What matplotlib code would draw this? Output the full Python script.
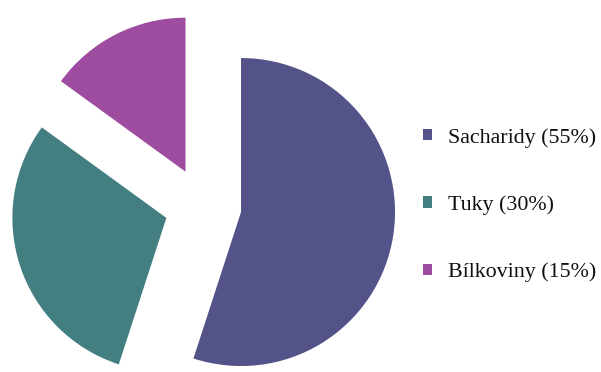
import matplotlib.pyplot as plt

labels = ["Sacharidy (55%)", "Tuky (30%)", "Bílkoviny (15%)"]
values = [55, 30, 15]
colors = ["#535389", "#437F80", "#9D4C9F"]

fig = plt.figure(figsize=(6.01, 3.72), dpi=100)
# pie radius 154 px, centre at (203, 206) px from top-left
ax = fig.add_axes([0, 0, 406 / 601, 1])

wedges, _ = ax.pie(values, colors=colors, startangle=90, counterclock=False,
                   explode=[0.25, 0.25, 0.25], radius=1, frame=True,
                   wedgeprops=dict(linewidth=0))
for w in wedges:
    w.set_clip_on(False)
ax.set_xlim(-203 / 154, 203 / 154)
ax.set_ylim(-166 / 154, 206 / 154)
ax.set_aspect("auto")
ax.axis("off")

leg = fig.legend(wedges, labels, loc="center left", bbox_to_anchor=(423 / 601, 1 - 205 / 372),
                 frameon=False, borderpad=0, borderaxespad=0,
                 handlelength=0.4, handleheight=0.4, handletextpad=0.75,
                 labelspacing=2.17, prop=dict(family="Liberation Serif", size=15.8))
for t in leg.get_texts():
    t.set_color("#111111")

fig.savefig("out.png", dpi=100)
